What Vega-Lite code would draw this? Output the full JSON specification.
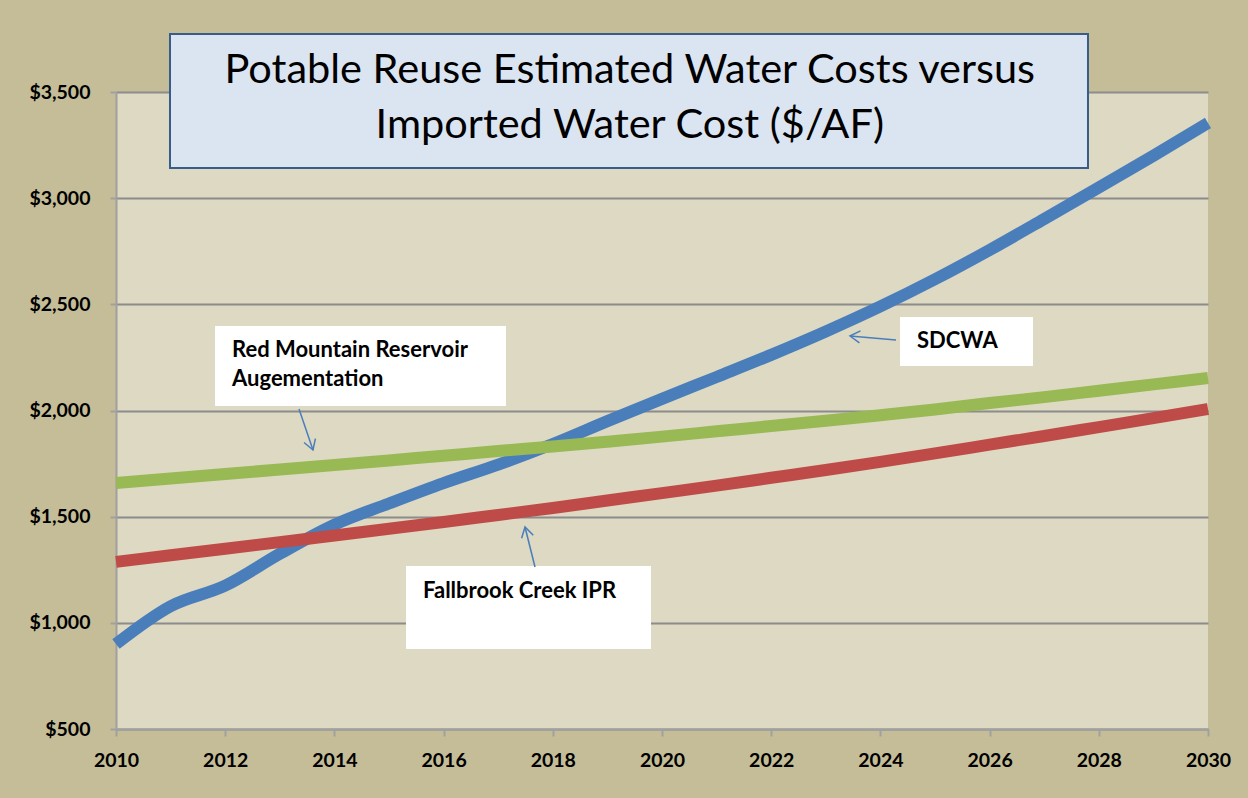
{
  "$schema": "https://vega.github.io/schema/vega-lite/v6.json",
  "width": 1092,
  "height": 637,
  "autosize": {"type": "none"},
  "padding": {"left": 116, "top": 92, "right": 40, "bottom": 69},
  "background": "#C4BD97",
  "config": {
    "view": {"fill": "#DDD9C3", "stroke": null},
    "font": "Lato"
  },
  "datasets": {
    "series": [
      {"year": 2010, "series": "SDCWA", "cost": 900},
      {"year": 2011, "series": "SDCWA", "cost": 1078},
      {"year": 2012, "series": "SDCWA", "cost": 1175},
      {"year": 2013, "series": "SDCWA", "cost": 1325},
      {"year": 2014, "series": "SDCWA", "cost": 1462},
      {"year": 2015, "series": "SDCWA", "cost": 1562},
      {"year": 2016, "series": "SDCWA", "cost": 1658},
      {"year": 2017, "series": "SDCWA", "cost": 1745},
      {"year": 2018, "series": "SDCWA", "cost": 1842},
      {"year": 2019, "series": "SDCWA", "cost": 1950},
      {"year": 2020, "series": "SDCWA", "cost": 2055},
      {"year": 2021, "series": "SDCWA", "cost": 2158},
      {"year": 2022, "series": "SDCWA", "cost": 2262},
      {"year": 2023, "series": "SDCWA", "cost": 2372},
      {"year": 2024, "series": "SDCWA", "cost": 2490},
      {"year": 2025, "series": "SDCWA", "cost": 2618},
      {"year": 2026, "series": "SDCWA", "cost": 2756},
      {"year": 2027, "series": "SDCWA", "cost": 2902},
      {"year": 2028, "series": "SDCWA", "cost": 3050},
      {"year": 2029, "series": "SDCWA", "cost": 3200},
      {"year": 2030, "series": "SDCWA", "cost": 3354},
      {"year": 2010, "series": "Fallbrook Creek IPR", "cost": 1287},
      {"year": 2011, "series": "Fallbrook Creek IPR", "cost": 1318},
      {"year": 2012, "series": "Fallbrook Creek IPR", "cost": 1349},
      {"year": 2013, "series": "Fallbrook Creek IPR", "cost": 1380},
      {"year": 2014, "series": "Fallbrook Creek IPR", "cost": 1411},
      {"year": 2015, "series": "Fallbrook Creek IPR", "cost": 1443},
      {"year": 2016, "series": "Fallbrook Creek IPR", "cost": 1475},
      {"year": 2017, "series": "Fallbrook Creek IPR", "cost": 1508},
      {"year": 2018, "series": "Fallbrook Creek IPR", "cost": 1541},
      {"year": 2019, "series": "Fallbrook Creek IPR", "cost": 1576},
      {"year": 2020, "series": "Fallbrook Creek IPR", "cost": 1611},
      {"year": 2021, "series": "Fallbrook Creek IPR", "cost": 1646},
      {"year": 2022, "series": "Fallbrook Creek IPR", "cost": 1683},
      {"year": 2023, "series": "Fallbrook Creek IPR", "cost": 1720},
      {"year": 2024, "series": "Fallbrook Creek IPR", "cost": 1758},
      {"year": 2025, "series": "Fallbrook Creek IPR", "cost": 1798},
      {"year": 2026, "series": "Fallbrook Creek IPR", "cost": 1839},
      {"year": 2027, "series": "Fallbrook Creek IPR", "cost": 1880},
      {"year": 2028, "series": "Fallbrook Creek IPR", "cost": 1922},
      {"year": 2029, "series": "Fallbrook Creek IPR", "cost": 1964},
      {"year": 2030, "series": "Fallbrook Creek IPR", "cost": 2007},
      {"year": 2010, "series": "Red Mountain Reservoir Augementation", "cost": 1659},
      {"year": 2011, "series": "Red Mountain Reservoir Augementation", "cost": 1680},
      {"year": 2012, "series": "Red Mountain Reservoir Augementation", "cost": 1701},
      {"year": 2013, "series": "Red Mountain Reservoir Augementation", "cost": 1722},
      {"year": 2014, "series": "Red Mountain Reservoir Augementation", "cost": 1743},
      {"year": 2015, "series": "Red Mountain Reservoir Augementation", "cost": 1765},
      {"year": 2016, "series": "Red Mountain Reservoir Augementation", "cost": 1787},
      {"year": 2017, "series": "Red Mountain Reservoir Augementation", "cost": 1809},
      {"year": 2018, "series": "Red Mountain Reservoir Augementation", "cost": 1830},
      {"year": 2019, "series": "Red Mountain Reservoir Augementation", "cost": 1853},
      {"year": 2020, "series": "Red Mountain Reservoir Augementation", "cost": 1877},
      {"year": 2021, "series": "Red Mountain Reservoir Augementation", "cost": 1902},
      {"year": 2022, "series": "Red Mountain Reservoir Augementation", "cost": 1927},
      {"year": 2023, "series": "Red Mountain Reservoir Augementation", "cost": 1952},
      {"year": 2024, "series": "Red Mountain Reservoir Augementation", "cost": 1978},
      {"year": 2025, "series": "Red Mountain Reservoir Augementation", "cost": 2005},
      {"year": 2026, "series": "Red Mountain Reservoir Augementation", "cost": 2035},
      {"year": 2027, "series": "Red Mountain Reservoir Augementation", "cost": 2063},
      {"year": 2028, "series": "Red Mountain Reservoir Augementation", "cost": 2093},
      {"year": 2029, "series": "Red Mountain Reservoir Augementation", "cost": 2123},
      {"year": 2030, "series": "Red Mountain Reservoir Augementation", "cost": 2153}
    ],
    "boxes": [
      {"kind": "title", "x1": 2010.989, "x2": 2027.802, "y1": 3773.2, "y2": 3142.1},
      {"kind": "label", "x1": 2011.813, "x2": 2017.143, "y1": 2398.0, "y2": 2021.2},
      {"kind": "label", "x1": 2015.311, "x2": 2019.799, "y1": 1267.7, "y2": 876.8},
      {"kind": "label", "x1": 2024.359, "x2": 2026.795, "y1": 2440.3, "y2": 2209.6}
    ],
    "titles": [
      {"text": "Potable Reuse Estimated Water Costs versus", "x": 2019.41, "y": 3542.4},
      {"text": "Imported Water Cost ($/AF)", "x": 2019.41, "y": 3283.4}
    ],
    "labels": [
      {"text": "Red Mountain Reservoir", "x": 2012.125, "y": 2252.0},
      {"text": "Augementation", "x": 2012.125, "y": 2115.4},
      {"text": "Fallbrook Creek IPR", "x": 2015.623, "y": 1117.0},
      {"text": "SDCWA", "x": 2024.670, "y": 2294.4}
    ],
    "arrows": [
      {"id": "rm", "x1": 2013.352, "y1": 2007.1, "x2": 2013.608, "y2": 1814.0},
      {"id": "fb", "x1": 2017.674, "y1": 1263.0, "x2": 2017.491, "y2": 1451.3},
      {"id": "sd", "x1": 2024.286, "y1": 2332.0, "x2": 2023.443, "y2": 2350.9}
    ]
  },
  "layer": [
    {
      "data": {"name": "series"},
      "transform": [{"filter": "datum.series === 'SDCWA'"}],
      "mark": {"type": "line", "interpolate": "monotone", "strokeWidth": 12, "strokeCap": "butt", "color": "#4A7EBB"},
      "encoding": {
        "x": {
          "field": "year", "type": "quantitative", "title": null,
          "scale": {"domain": [2010, 2030], "nice": false, "zero": false},
          "axis": {
            "values": [2010, 2012, 2014, 2016, 2018, 2020, 2022, 2024, 2026, 2028, 2030],
            "format": "d", "grid": false,
            "domainColor": "#A0A0A0", "domainWidth": 2,
            "tickColor": "#A0A0A0", "tickWidth": 2, "tickSize": 7,
            "labelFont": "Lato", "labelFontWeight": "bold", "labelFontSize": 19.5,
            "labelColor": "#000000", "labelPadding": 15, "labelFlush": false
          }
        },
        "y": {
          "field": "cost", "type": "quantitative", "title": null,
          "scale": {"domain": [500, 3500], "nice": false, "zero": false},
          "axis": {
            "values": [500, 1000, 1500, 2000, 2500, 3000, 3500],
            "format": "$,.0f",
            "grid": true, "gridColor": "#8C8C8C", "gridWidth": 2,
            "domainColor": "#A0A0A0", "domainWidth": 2,
            "tickColor": "#A0A0A0", "tickWidth": 2, "tickSize": 6,
            "labelFont": "Lato", "labelFontWeight": "bold", "labelFontSize": 19.5,
            "labelColor": "#000000", "labelPadding": 20
          }
        }
      }
    },
    {
      "data": {"name": "series"},
      "transform": [{"filter": "datum.series === 'Fallbrook Creek IPR'"}],
      "mark": {"type": "line", "interpolate": "monotone", "strokeWidth": 12, "strokeCap": "butt", "color": "#BE4B48"},
      "encoding": {
        "x": {"field": "year", "type": "quantitative", "title": null},
        "y": {"field": "cost", "type": "quantitative", "title": null}
      }
    },
    {
      "data": {"name": "series"},
      "transform": [{"filter": "datum.series === 'Red Mountain Reservoir Augementation'"}],
      "mark": {"type": "line", "interpolate": "monotone", "strokeWidth": 12, "strokeCap": "butt", "color": "#98B954"},
      "encoding": {
        "x": {"field": "year", "type": "quantitative", "title": null},
        "y": {"field": "cost", "type": "quantitative", "title": null}
      }
    },
    {
      "data": {"name": "boxes"},
      "transform": [{"filter": "datum.kind === 'title'"}],
      "mark": {"type": "rect", "fill": "#DBE5F1", "stroke": "#385D8A", "strokeWidth": 2, "clip": false},
      "encoding": {
        "x": {"field": "x1", "type": "quantitative", "title": null},
        "x2": {"field": "x2"},
        "y": {"field": "y1", "type": "quantitative", "title": null},
        "y2": {"field": "y2"}
      }
    },
    {
      "data": {"name": "boxes"},
      "transform": [{"filter": "datum.kind === 'label'"}],
      "mark": {"type": "rect", "fill": "#FFFFFF", "clip": false},
      "encoding": {
        "x": {"field": "x1", "type": "quantitative", "title": null},
        "x2": {"field": "x2"},
        "y": {"field": "y1", "type": "quantitative", "title": null},
        "y2": {"field": "y2"}
      }
    },
    {
      "data": {"name": "titles"},
      "mark": {"type": "text", "font": "Lato", "fontSize": 41.5, "align": "center", "baseline": "alphabetic", "color": "#000000", "clip": false},
      "encoding": {
        "x": {"field": "x", "type": "quantitative", "title": null},
        "y": {"field": "y", "type": "quantitative", "title": null},
        "text": {"field": "text"}
      }
    },
    {
      "data": {"name": "labels"},
      "mark": {"type": "text", "font": "Lato", "fontSize": 22, "fontWeight": "bold", "align": "left", "baseline": "alphabetic", "color": "#000000"},
      "encoding": {
        "x": {"field": "x", "type": "quantitative", "title": null},
        "y": {"field": "y", "type": "quantitative", "title": null},
        "text": {"field": "text"}
      }
    },
    {
      "data": {"name": "arrows"},
      "mark": {"type": "rule", "color": "#4A7EBB", "strokeWidth": 1.5},
      "encoding": {
        "x": {"field": "x1", "type": "quantitative", "title": null},
        "x2": {"field": "x2"},
        "y": {"field": "y1", "type": "quantitative", "title": null},
        "y2": {"field": "y2"}
      }
    },
    {
      "data": {"name": "arrows"},
      "transform": [{"filter": "datum.id === 'rm'"}],
      "mark": {"type": "point", "shape": "M -0.6 1 L 0 0 L 0.6 1", "filled": false, "stroke": "#4A7EBB", "strokeWidth": 1.5, "size": 400, "angle": 161, "opacity": 1},
      "encoding": {
        "x": {"field": "x2", "type": "quantitative", "title": null},
        "y": {"field": "y2", "type": "quantitative", "title": null}
      }
    },
    {
      "data": {"name": "arrows"},
      "transform": [{"filter": "datum.id === 'fb'"}],
      "mark": {"type": "point", "shape": "M -0.6 1 L 0 0 L 0.6 1", "filled": false, "stroke": "#4A7EBB", "strokeWidth": 1.5, "size": 400, "angle": 346, "opacity": 1},
      "encoding": {
        "x": {"field": "x2", "type": "quantitative", "title": null},
        "y": {"field": "y2", "type": "quantitative", "title": null}
      }
    },
    {
      "data": {"name": "arrows"},
      "transform": [{"filter": "datum.id === 'sd'"}],
      "mark": {"type": "point", "shape": "M -0.6 1 L 0 0 L 0.6 1", "filled": false, "stroke": "#4A7EBB", "strokeWidth": 1.5, "size": 400, "angle": 275, "opacity": 1},
      "encoding": {
        "x": {"field": "x2", "type": "quantitative", "title": null},
        "y": {"field": "y2", "type": "quantitative", "title": null}
      }
    }
  ]
}
